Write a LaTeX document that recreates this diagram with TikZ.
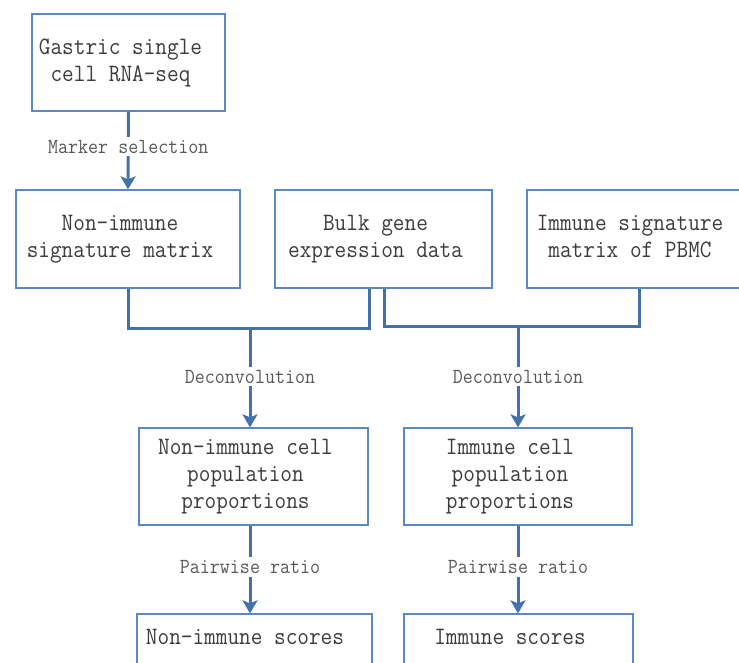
\documentclass[tikz,border=0pt]{standalone}
\usepackage{fontspec}
\setmonofont{Latin Modern Mono}[FakeStretch=0.905]
\usetikzlibrary{arrows.meta,calc}
\definecolor{boxblue}{HTML}{5B87C5}
\definecolor{lineblue}{HTML}{4571AA}
\definecolor{txt}{HTML}{3C3C3C}
\tikzset{
  box/.style={draw=boxblue, line width=1.3pt, fill=white, rectangle, inner sep=0pt},
  bigtext/.style={text=txt, font=\ttfamily\fontsize{25}{27}\selectfont, inner sep=0pt, align=center},
  boxtext/.style={label={[bigtext, xshift=-8pt]center:#1}},
  lbl/.style={fill=white, text=txt!85!white, inner sep=3pt, font=\ttfamily\fontsize{21.5}{23}\selectfont},
  wire/.style={draw=lineblue, line width=3pt},
  conn/.style={wire, -{Stealth[width=15pt,length=13pt,inset=3pt]}},
}
\begin{document}
\begin{tikzpicture}[x=1pt,y=-1pt]
\useasboundingbox (0,0) rectangle (739,662);
\clip (0,0) rectangle (739,662);
% boxes
\node[box, minimum width=193pt, minimum height=97pt, boxtext={Gastric single\\cell RNA-seq}] (gastric) at (128.5,62.5) {};
\node[box, minimum width=224pt, minimum height=98pt, boxtext={Non-immune\\signature matrix}] (nonsig) at (128,239) {};
\node[box, minimum width=217pt, minimum height=98pt, boxtext={Bulk gene\\expression data}] (bulk) at (383.5,239) {};
\node[box, minimum width=225pt, minimum height=98pt] (immsig) at (639.5,239) {};
\node[bigtext] (immsigtext) at (630,236.5) {Immune signature\\matrix of PBMC};
\node[box, minimum width=229pt, minimum height=97pt, boxtext={Non-immune cell\\population\\proportions}] (nonprop) at (253.5,476.5) {};
\node[box, minimum width=228pt, minimum height=97pt, boxtext={Immune cell\\population\\proportions}] (immprop) at (518,476.5) {};
\node[box, minimum width=235pt, minimum height=70pt] (nonscore) at (254.5,649) {};
\node[bigtext] (nonscoretext) at (245,637) {Non-immune scores};
\node[box, minimum width=229pt, minimum height=70pt] (immscore) at (518.5,649) {};
\node[bigtext] (immscoretext) at (510,637) {Immune scores};
% junctions
\coordinate (j1) at (250,328);
\coordinate (j2) at (518,326);
% connectors
\draw[conn] (gastric.south) -- node[lbl, pos=0.45] (l1) {Marker selection} (nonsig.north);
\draw[wire] (nonsig.south) |- (j1) -| ([xshift=-14pt]bulk.south);
\draw[wire] ([xshift=1pt]bulk.south) |- (j2) -| (immsig.south);
\draw[conn] (j1) -- node[lbl, pos=0.49] (l2) {Deconvolution} (j1 |- nonprop.north);
\draw[conn] (j2) -- node[lbl, pos=0.5] (l3) {Deconvolution} (j2 |- immprop.north);
\draw[conn] (nonprop.south -| j1) -- node[lbl, pos=0.47] (l4) {Pairwise ratio} (nonscore.north -| j1);
\draw[conn] (immprop.south) -- node[lbl, pos=0.47] (l5) {Pairwise ratio} (immscore.north -| immprop.south);
\end{tikzpicture}
\end{document}
